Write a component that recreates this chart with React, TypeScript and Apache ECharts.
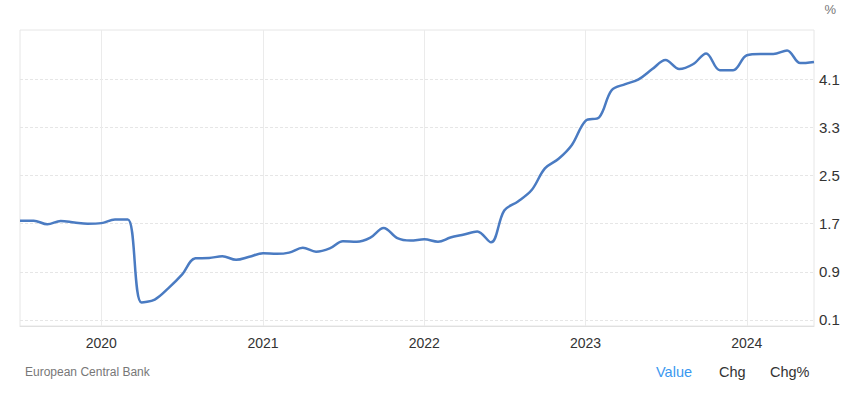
import React, { useEffect, useRef } from "react";
import * as echarts from "echarts";

const months: string[] = [
  "2019-07-01", "2019-08-01", "2019-09-01", "2019-10-01", "2019-11-01", "2019-12-01",
  "2020-01-01", "2020-02-01", "2020-03-01", "2020-04-01", "2020-05-01", "2020-06-01",
  "2020-07-01", "2020-08-01", "2020-09-01", "2020-10-01", "2020-11-01", "2020-12-01",
  "2021-01-01", "2021-02-01", "2021-03-01", "2021-04-01", "2021-05-01", "2021-06-01",
  "2021-07-01", "2021-08-01", "2021-09-01", "2021-10-01", "2021-11-01", "2021-12-01",
  "2022-01-01", "2022-02-01", "2022-03-01", "2022-04-01", "2022-05-01", "2022-06-01",
  "2022-07-01", "2022-08-01", "2022-09-01", "2022-10-01", "2022-11-01", "2022-12-01",
  "2023-01-01", "2023-02-01", "2023-03-01", "2023-04-01", "2023-05-01", "2023-06-01",
  "2023-07-01", "2023-08-01", "2023-09-01", "2023-10-01", "2023-11-01", "2023-12-01",
  "2024-01-01", "2024-02-01", "2024-03-01", "2024-04-01", "2024-05-01", "2024-06-01",
];

const values: number[] = [
  1.75, 1.75, 1.69, 1.745, 1.72, 1.70,
  1.71, 1.77, 1.77, 0.39, 0.44, 0.63,
  0.85, 1.125, 1.13, 1.16, 1.10, 1.15,
  1.21, 1.20, 1.22, 1.30, 1.235, 1.29,
  1.41, 1.40, 1.47, 1.63, 1.46, 1.42,
  1.44, 1.40, 1.47, 1.52, 1.57, 1.39,
  1.92, 2.07, 2.26, 2.62, 2.78, 3.01,
  3.41, 3.47, 3.92, 4.02, 4.10, 4.27,
  4.42, 4.27, 4.35, 4.53, 4.25, 4.25,
  4.50, 4.52, 4.52, 4.58, 4.37, 4.39,
];

const yTicks: number[] = [0.1, 0.9, 1.7, 2.5, 3.3, 4.1];
const yearTicks: string[] = ["2020-01-01", "2021-01-01", "2022-01-01", "2023-01-01", "2024-01-01"];

const unitLabel = "%";
const sourceLabel = "European Central Bank";
const tabLabels: string[] = ["Value", "Chg", "Chg%"];

const FONT = "'Liberation Sans', Arial, Helvetica, sans-serif";

const ts = (d: string) => new Date(d + "T00:00:00Z").getTime();

export default function App() {
  const ref = useRef<HTMLDivElement>(null);

  useEffect(() => {
    if (!ref.current) return;
    const chart = echarts.init(ref.current, undefined, { renderer: "svg" });
    const yearTs = yearTicks.map(ts);
    const data = months.map((m, i) => [ts(m), values[i]]);

    chart.setOption({
      animation: false,
      textStyle: { fontFamily: FONT },
      grid: {
        left: 20,
        right: 36,
        top: 30,
        bottom: 67,
        show: true,
        borderColor: "#e6e6e6",
        borderWidth: 1,
      },
      xAxis: {
        type: "value",
        min: ts(months[0]),
        max: ts(months[months.length - 1]),
        axisLine: { show: true, lineStyle: { color: "#e0e0e0" } },
        axisTick: { show: false, customValues: yearTs },
        axisLabel: {
          customValues: yearTs,
          formatter: (v: number) => String(new Date(v).getUTCFullYear()),
          color: "#333",
          fontSize: 14,
          margin: 10,
          fontFamily: FONT,
        },
        splitLine: { show: true, lineStyle: { color: "#ebebeb", width: 1 } },
      },
      yAxis: {
        type: "value",
        position: "right",
        min: 0,
        max: 4.92,
        axisLine: { show: false },
        axisTick: { show: false, customValues: yTicks },
        axisLabel: {
          customValues: yTicks,
          formatter: (v: number) => v.toFixed(1),
          color: "#333",
          fontSize: 15,
          margin: 5,
          fontFamily: FONT,
        },
        splitLine: { show: true, lineStyle: { color: "#e6e6e6", type: [3, 2], width: 1 } },
      },
      series: [
        {
          type: "line",
          data,
          smooth: 0.35,
          showSymbol: false,
          symbol: "none",
          lineStyle: { color: "#4a7bc2", width: 2.5 },
        },
      ],
      graphic: [
        {
          type: "text",
          right: 14,
          top: 3,
          style: { text: unitLabel, fill: "#777", fontSize: 13, fontFamily: FONT },
        },
        {
          type: "text",
          left: 25,
          top: 366,
          style: { text: sourceLabel, fill: "#777", fontSize: 12, fontFamily: FONT },
        },
        {
          type: "text",
          left: 656,
          top: 364,
          style: { text: tabLabels[0], fill: "#3a98f0", fontSize: 14.5, fontFamily: FONT },
        },
        {
          type: "text",
          left: 719,
          top: 364,
          style: { text: tabLabels[1], fill: "#333", fontSize: 14.5, fontFamily: FONT },
        },
        {
          type: "text",
          left: 770,
          top: 364,
          style: { text: tabLabels[2], fill: "#333", fontSize: 14.5, fontFamily: FONT },
        },
      ],
    });

    return () => chart.dispose();
  }, []);

  return (
    <div
      ref={ref}
      style={{ width: 850, height: 393, position: "absolute", left: 0, top: 0 }}
    />
  );
}
